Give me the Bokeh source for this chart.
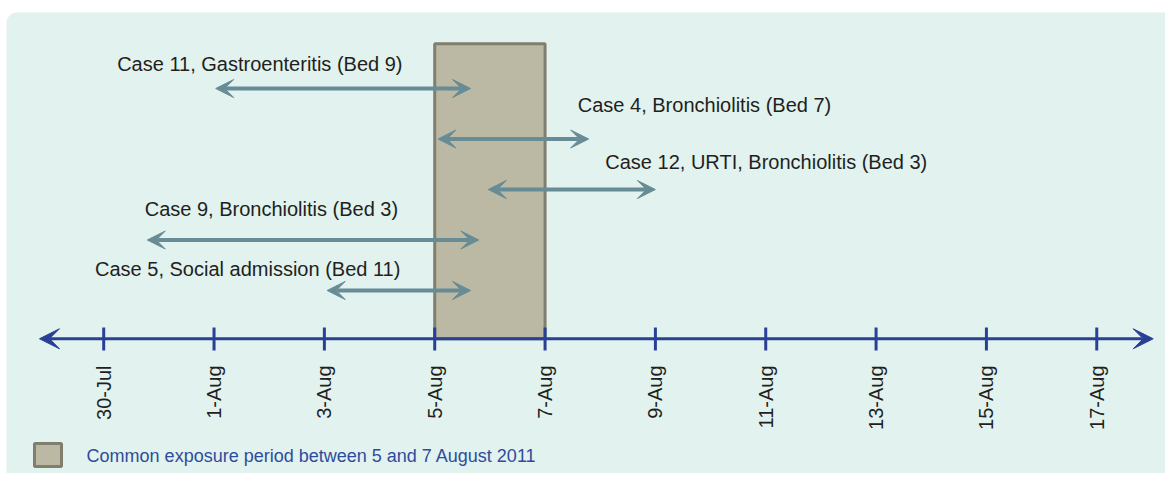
import math
from bokeh.plotting import figure
from bokeh.models import ColumnDataSource, Arrow, VeeHead, BoxAnnotation, Range1d
from bokeh.core.properties import value
from bokeh.embed import file_html
from bokeh.resources import INLINE

# ---- data (x in days since 30 Jul 2011) ----
tick_labels = ["30-Jul", "1-Aug", "3-Aug", "5-Aug", "7-Aug", "9-Aug",
               "11-Aug", "13-Aug", "15-Aug", "17-Aug"]
tick_days = [0, 2, 4, 6, 8, 10, 12, 14, 16, 18]

cases = ["Case 11, Gastroenteritis (Bed 9)",
         "Case 4, Bronchiolitis (Bed 7)",
         "Case 12, URTI, Bronchiolitis (Bed 3)",
         "Case 9, Bronchiolitis (Bed 3)",
         "Case 5, Social admission (Bed 11)"]
case_start = [2.03, 6.06, 6.97, 0.79, 4.05]
case_end = [6.65, 8.79, 10.0, 6.80, 6.65]
case_row = [5, 4, 3, 2, 1]

exposure_start = [6]   # 5-Aug
exposure_end = [8]     # 7-Aug
legend_text = ["Common exposure period between 5 and 7 August 2011"]

# ---- layout / style constants ----
label_x = [2.83, 10.89, 12.01, 3.04, 2.61]
label_y = [5.485, 4.673, 3.545, 2.604, 1.416]
AXIS_Y = 0.044
AXIS_LEFT, AXIS_RIGHT = -1.164, 19.023
TICK_LO, TICK_HI = -0.188, 0.267
TICKLABEL_Y = -0.485
RECT_TOP = 5.885
PANEL_TOP = 6.505
PANEL_LEFT = -1.762

BG = "#e1f2ef"
ARROW_C = "#688c95"
RECT_FILL = "#bbb9a3"
RECT_LINE = "#807f6e"
AXIS_C = "#2a4097"
TEXT_C = "#231f20"
LEG_C = "#2f4c9c"
FONT = "Liberation Sans"

W, H = 1165, 473
x_range = Range1d(-1.8706, 19.246)
y_range = Range1d(-2.6238, 6.7426)

p = figure(width=W, height=H, x_range=x_range, y_range=y_range,
           output_backend="svg", toolbar_location=None,
           x_axis_type=None, y_axis_type=None, min_border=0)
p.outline_line_color = None
p.background_fill_color = "white"
p.border_fill_color = "white"
p.xgrid.visible = False
p.ygrid.visible = False

panel = BoxAnnotation(level="underlay", left=PANEL_LEFT, top=PANEL_TOP,
                      right=x_range.end + 1, bottom=y_range.start - 1,
                      fill_color=BG, fill_alpha=1, line_color=None,
                      border_radius=10)
p.add_layout(panel)

# exposure rectangle
p.quad(left=exposure_start, right=exposure_end, bottom=[AXIS_Y], top=[RECT_TOP],
       fill_color=RECT_FILL, line_color=RECT_LINE, line_width=3)

# axis line with arrow heads
axis_arrow = Arrow(x_start=AXIS_LEFT, y_start=AXIS_Y, x_end=AXIS_RIGHT, y_end=AXIS_Y,
                   line_color=AXIS_C, line_width=3,
                   start=VeeHead(size=20, fill_color=AXIS_C, line_color=AXIS_C, line_width=1),
                   end=VeeHead(size=20, fill_color=AXIS_C, line_color=AXIS_C, line_width=1))
p.add_layout(axis_arrow)

# ticks
p.segment(x0=tick_days, x1=tick_days, y0=[TICK_LO] * len(tick_days),
          y1=[TICK_HI] * len(tick_days), line_color=AXIS_C, line_width=3)

# tick labels
p.text(x=tick_days, y=[TICKLABEL_Y] * len(tick_days), text=tick_labels,
       angle=math.pi / 2, text_align="right", text_baseline="middle",
       text_font=value(FONT), text_font_size="20px", text_color=TEXT_C)

# case arrows
src = ColumnDataSource(dict(x0=case_start, x1=case_end, y=case_row))
case_arrows = Arrow(x_start="x0", y_start="y", x_end="x1", y_end="y", source=src,
                    line_color=ARROW_C, line_width=4,
                    start=VeeHead(size=18, fill_color=ARROW_C, line_color=ARROW_C, line_width=1),
                    end=VeeHead(size=18, fill_color=ARROW_C, line_color=ARROW_C, line_width=1))
p.add_layout(case_arrows)

# case labels
p.text(x=label_x, y=label_y, text=cases, text_align="center", text_baseline="middle",
       text_font=value(FONT), text_font_size="20px", text_color=TEXT_C)

# legend
p.rect(x=[-1.01], y=[-2.257], width=27, height=23, width_units="screen",
       height_units="screen", fill_color=RECT_FILL, line_color=RECT_LINE, line_width=3)
p.text(x=[-0.31], y=[-2.277], text=legend_text, text_align="left", text_baseline="middle",
       text_font=value(FONT), text_font_size="18px", text_color=LEG_C)

open("out.html", "w").write(file_html(p, INLINE))
